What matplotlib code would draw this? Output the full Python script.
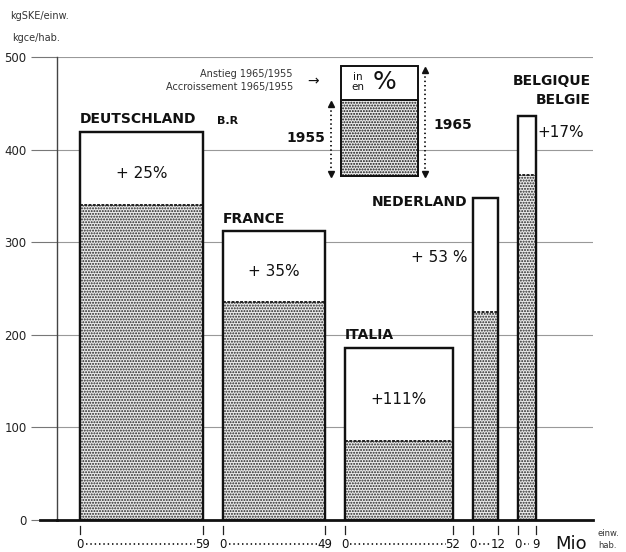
import matplotlib
matplotlib.use("Agg")
import matplotlib.pyplot as plt
from matplotlib.patches import Rectangle
from matplotlib.lines import Line2D

# ---- data ----
countries = ["DEUTSCHLAND", "FRANCE", "ITALIA", "NEDERLAND", "BELGIQUE\nBELGIE"]
population = [59, 49, 52, 12, 9]          # Mio inhabitants (bar widths)
cons_1955 = [340, 235, 85, 225, 373]       # kgSKE per inhabitant
cons_1965 = [419, 312, 186, 348, 436]
increase_labels = ["+ 25%", "+ 35%", "+111%", "+ 53 %", "+17%"]
yticks = [0, 100, 200, 300, 400, 500]

W, H = 626, 552
DPI = 100
plt.rcParams['hatch.linewidth'] = 0.95
plt.rcParams['hatch.color'] = '#303030'
plt.rcParams['font.family'] = ['DejaVu Sans']

fig = plt.figure(figsize=(W / DPI, H / DPI), dpi=DPI, facecolor='white')
ax = fig.add_axes([57 / W, 32 / H, (593 - 57) / W, 463 / H])
ax.set_facecolor('white')

def P(x, y):
    return (x / W, 1 - y / H)

STIP = '#eaeaea'
HATCH = '......'

gap = 9.6
lefts = []
x = 0.0
for p in population:
    lefts.append(x)
    x += p + gap

ax.set_xlim(-11.06, 246.6)
ax.set_ylim(0, 500)

# grid
ax.set_yticks(yticks)
ax.set_yticklabels([str(v) for v in yticks], fontsize=8.5, color='#222')
ax.yaxis.grid(True, color='#999999', lw=0.8, zorder=0)
ax.set_axisbelow(True)
ax.tick_params(axis='y', length=19, width=0.8, color='#777', pad=3)
ax.set_xticks([])
for s in ['top', 'right']:
    ax.spines[s].set_visible(False)
ax.spines['left'].set_color('#444')
ax.spines['left'].set_linewidth(1.0)
ax.spines['bottom'].set_color('#111')
ax.spines['bottom'].set_linewidth(2.0)
# extend baseline to the left
fig.add_artist(Line2D([P(40, 520)[0], P(57, 520)[0]], [P(40, 520)[1]] * 2, color='#111', lw=2))

# bars
for l, w, a, b in zip(lefts, population, cons_1955, cons_1965):
    ax.add_patch(Rectangle((l, 0), w, b, facecolor='white', edgecolor='#111', lw=1.6, zorder=2))
    ax.add_patch(Rectangle((l, 0), w, a, facecolor=STIP, edgecolor='#222', hatch=HATCH, lw=0.0, zorder=3))
    ax.plot([l, l + w], [a, a], color='#222', lw=1.4, ls=(0, (1.5, 0.7)), zorder=4)
    ax.add_patch(Rectangle((l, 0), w, b, facecolor='none', edgecolor='#111', lw=1.6, zorder=5))

# country labels
lab_kw = dict(fontsize=10, fontweight='bold', color='#111')
ax.text(lefts[0], cons_1965[0] + 6, countries[0], ha='left', va='bottom', **lab_kw)
ax.text(lefts[0] + 66, cons_1965[0] + 6, "B.R", ha='left', va='bottom', fontsize=8, fontweight='bold', color='#111')
ax.text(lefts[1], cons_1965[1] + 6, countries[1], ha='left', va='bottom', **lab_kw)
ax.text(lefts[2], cons_1965[2] + 6, countries[2], ha='left', va='bottom', **lab_kw)
ax.text(lefts[3] - 2.5, cons_1965[3] - 12, countries[3], ha='right', va='bottom', **lab_kw)
ax.text(lefts[4] + population[4] + 26, cons_1965[4] + 10, countries[4], ha='right', va='bottom',
        linespacing=1.5, **lab_kw)

# increase labels
pk = dict(fontsize=11, color='#111')
for i in range(3):
    ax.text(lefts[i] + population[i] / 2, (cons_1955[i] + cons_1965[i]) / 2 - 5, increase_labels[i],
            ha='center', va='center', **pk)
ax.text(lefts[3] - 2.5, (cons_1955[3] + cons_1965[3]) / 2 - 3, increase_labels[3], ha='right', va='center', **pk)
ax.text(lefts[4] + population[4] + 0.5, cons_1965[4] - 17, increase_labels[4], ha='left', va='center', **pk)

# x labels beneath bars
for l, w, p in zip(lefts, population, population):
    for xx in (l, l + w):
        ax.plot([xx, xx], [-7, -15], color='#222', lw=0.9, clip_on=False)
    ax.text(l, -26, "0", ha='center', va='center', fontsize=8.5, color='#111', clip_on=False)
    ax.text(l + w, -26, str(p), ha='center', va='center', fontsize=8.5, color='#111', clip_on=False)
    ax.plot([l + 2.8, l + w - 3.5], [-26, -26], color='#222', lw=1.3, ls=(0, (0.8, 1.6)), clip_on=False)

fig.text(*P(555, 544), "Mio", fontsize=13, ha='left', va='center', color='#111')
fig.text(*P(598, 533), "einw.", fontsize=6, ha='left', va='center', color='#333')
fig.text(*P(598, 545), "hab.", fontsize=6, ha='left', va='center', color='#333')

# y axis unit labels
fig.text(*P(10, 16), "kgSKE/einw.", fontsize=7, ha='left', va='center', color='#333')
fig.text(*P(12, 38), "kgce/hab.", fontsize=7, ha='left', va='center', color='#333')

# legend key
x0, x1, ytop, ymid, ybot = 341, 418, 66, 100, 176
fig.add_artist(Rectangle(P(x0, ybot), (x1 - x0) / W, (ybot - ytop) / H, transform=fig.transFigure,
                         facecolor='white', edgecolor='#111', lw=1.4))
fig.add_artist(Rectangle(P(x0, ybot), (x1 - x0) / W, (ybot - ymid) / H, transform=fig.transFigure,
                         facecolor=STIP, edgecolor='#111', hatch=HATCH, lw=1.4))
fig.text(*P(358, 77), "in", fontsize=7.5, ha='center', va='center', color='#111')
fig.text(*P(358, 87), "en", fontsize=7.5, ha='center', va='center', color='#111')
fig.text(*P(384, 82), "%", fontsize=18, ha='center', va='center', color='#111')

def dotted_arrow(xp, y1, y2):
    fig.add_artist(Line2D([P(xp, y1)[0]] * 2, [P(xp, y1 + 6)[1], P(xp, y2 - 6)[1]],
                          color='#111', lw=1.3, ls=(0, (0.8, 1.6))))
    fig.add_artist(Line2D([P(xp, y1 + 4)[0]], [P(xp, y1 + 4)[1]], marker='^', ms=5, color='#111'))
    fig.add_artist(Line2D([P(xp, y2 - 4)[0]], [P(xp, y2 - 4)[1]], marker='v', ms=5, color='#111'))

dotted_arrow(331, 100, 178)
dotted_arrow(425, 66, 178)
fig.text(*P(325, 138), "1955", fontsize=10, fontweight='bold', ha='right', va='center', color='#111')
fig.text(*P(433, 125), "1965", fontsize=10, fontweight='bold', ha='left', va='center', color='#111')
fig.text(*P(293, 74), "Anstieg 1965/1955", fontsize=7, ha='right', va='center', color='#333')
fig.text(*P(293, 87), "Accroissement 1965/1955", fontsize=7, ha='right', va='center', color='#333')
fig.text(*P(313, 81), "\u2192", fontsize=10, ha='center', va='center', color='#111')

fig.savefig("out.png", dpi=DPI, facecolor='white')
